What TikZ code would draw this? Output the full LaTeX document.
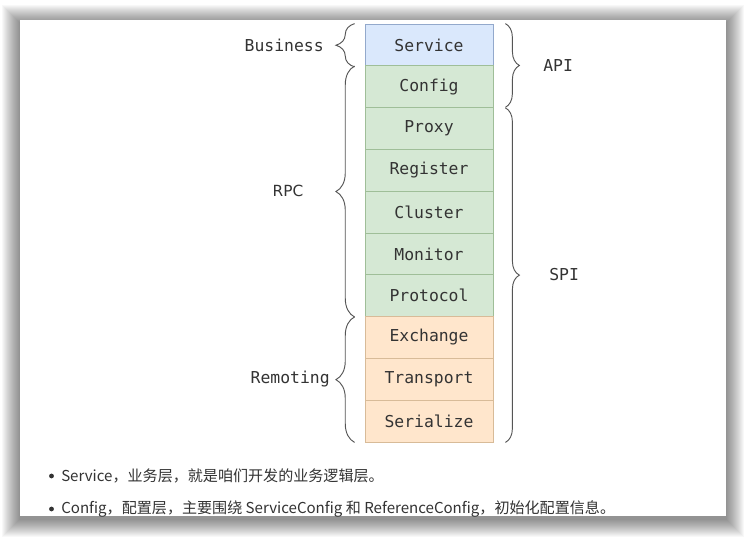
\documentclass[tikz,border=0pt]{standalone}
\usepackage{fontspec}
\setmainfont{Noto Sans CJK SC}
\newfontfamily\monof{DejaVu Sans Mono}
\newfontfamily\sansf{DejaVu Sans}
\usetikzlibrary{decorations.pathreplacing}
\definecolor{bluefill}{HTML}{DAE8FC}
\definecolor{blueline}{HTML}{93A9CC}
\definecolor{greenfill}{HTML}{D5E8D4}
\definecolor{greenline}{HTML}{9FBE98}
\definecolor{orangefill}{HTML}{FFE6CC}
\definecolor{orangeline}{HTML}{D8BB98}
\definecolor{txt}{HTML}{333333}
\definecolor{bracec}{HTML}{555555}
\tikzset{
  layer/.style={draw, line width=0.6pt, minimum width=96pt, minimum height=31.35pt,
    inner sep=0pt, font=\monof\fontsize{12.3}{14}\selectfont, text=txt},
  svc/.style={layer, fill=bluefill, draw=blueline},
  grn/.style={layer, fill=greenfill, draw=greenline},
  org/.style={layer, fill=orangefill, draw=orangeline},
  lab/.style={font=\monof\fontsize{12.3}{14}\selectfont, text=txt, inner sep=0pt},
  lbrace/.style={draw=bracec, line width=0.7pt, decorate, decoration={brace, amplitude=14pt}},
  rbrace/.style={draw=bracec, line width=0.7pt, decorate, decoration={brace, amplitude=10.5pt}},
  bullettext/.style={font=\fontsize{11.3}{13}\selectfont, text=txt, anchor=west, inner sep=0pt},
}
\begin{document}
\begin{tikzpicture}[x=0.75pt, y=-0.75pt]
\useasboundingbox (0,0) rectangle (746,537);
\fill[white] (0,0) rectangle (746,537);
% shadow
\foreach \i in {1,...,18} {
  \fill[black, opacity=0.028] (20-\i,20-\i+3) rectangle (726+\i,516+\i+3);
}
\fill[white] (20,20) rectangle (726,516);

% layers
\node[svc] (service)   at (429,44.9)  {Service};
\node[grn] (config)    at (429,86.7)  {Config};
\node[grn] (proxy)     at (429,128.5) {Proxy};
\node[grn] (register)  at (429,170.3) {Register};
\node[grn] (cluster)   at (429,212.1) {Cluster};
\node[grn] (monitor)   at (429,253.9) {Monitor};
\node[grn] (protocol)  at (429,295.7) {Protocol};
\node[org] (exchange)  at (429,337.5) {Exchange};
\node[org] (transport) at (429,379.3) {Transport};
\node[org] (serialize) at (429,421.1) {Serialize};

% left braces
\draw[lbrace] ([xshift=-7.5pt,yshift=-0.5pt]service.south west) -- ([xshift=-7.5pt]service.north west);
\draw[lbrace] ([xshift=-7.5pt]protocol.south west) -- ([xshift=-7.5pt,yshift=-0.5pt]config.north west);
\draw[lbrace] ([xshift=-7.5pt]serialize.south west) -- ([xshift=-7.5pt,yshift=-0.5pt]exchange.north west);
% right braces
\draw[rbrace] ([xshift=9pt]service.north east) -- ([xshift=9pt,yshift=0.5pt]config.south east);
\draw[rbrace] ([xshift=9pt,yshift=-0.5pt]proxy.north east) -- ([xshift=9pt]serialize.south east);

% labels
\node[lab, anchor=east] (business) at (324,45) {Business};
\node[font=\sansf\fontsize{11.5}{14}\selectfont, text=txt, inner sep=0pt] (rpc) at (288,191) {RPC};
\node[lab, anchor=east] (remoting) at (330,379) {Remoting};
\node[lab, anchor=west] (api) at (543,66) {API};
\node[lab, anchor=west] (spi) at (549,275) {SPI};

% bullets
\fill[txt] (51.5,476) circle (2.4);
\node[bullettext] (b1) at (61,476) {Service，业务层，就是咱们开发的业务逻辑层。};
\fill[txt] (51.5,509) circle (2.4);
\node[bullettext] (b2) at (61,509) {Config，配置层，主要围绕 ServiceConfig 和 ReferenceConfig，初始化配置信息。};
\end{tikzpicture}
\end{document}
